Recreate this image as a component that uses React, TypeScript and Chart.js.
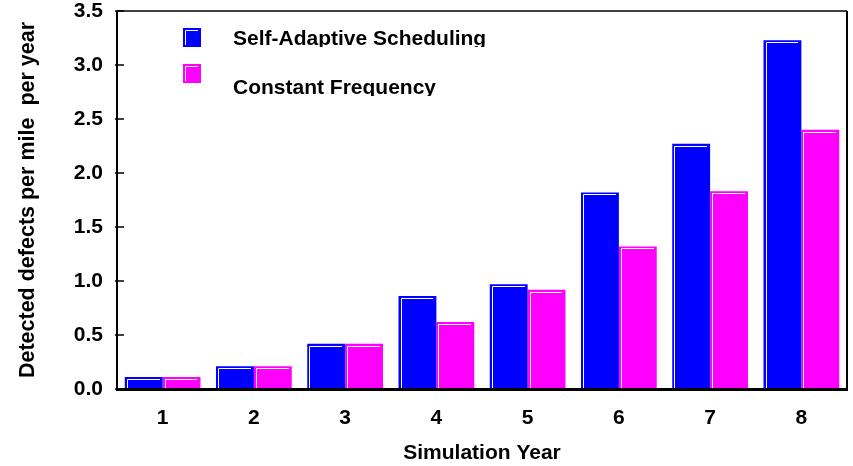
import React, { useEffect, useRef } from "react";
import { Chart, registerables } from "chart.js";

Chart.register(...registerables);

const categories = ["1", "2", "3", "4", "5", "6", "7", "8"];
const selfAdaptive = [0.11, 0.21, 0.42, 0.86, 0.97, 1.82, 2.27, 3.23];
const constantFreq = [0.11, 0.21, 0.42, 0.62, 0.92, 1.32, 1.83, 2.4];
const seriesNames = ["Self-Adaptive Scheduling", "Constant Frequency"];
const seriesColors = ["#0000FF", "#FF00FF"];
const yMin = 0;
const yMax = 3.5;
const yStep = 0.5;
const xTitle = "Simulation Year";
const yTitle = "Detected defects per mile  per year";

const FONT = "'Liberation Sans', Arial, sans-serif";

const highlightPlugin = {
  id: "barHighlight",
  afterDatasetsDraw(chart: any) {
    const ctx = chart.ctx;
    ctx.save();
    ctx.strokeStyle = "#FFFFFF";
    ctx.lineWidth = 1;
    chart.data.datasets.forEach((_: any, i: number) => {
      const meta = chart.getDatasetMeta(i);
      meta.data.forEach((bar: any) => {
        const { x, y, base, width } = bar.getProps(["x", "y", "base", "width"], true);
        const l = Math.round(x - width / 2) + 2.5;
        const r = Math.round(x + width / 2) - 3;
        const t = Math.round(y) + 2.5;
        ctx.beginPath();
        ctx.moveTo(l, base - 1);
        ctx.lineTo(l, t);
        ctx.lineTo(r, t);
        ctx.stroke();
      });
    });
    ctx.restore();
  },
};

const framePlugin = {
  id: "frame",
  afterDraw(chart: any) {
    const ctx = chart.ctx;
    const { left, right, top, bottom } = chart.chartArea;
    const yScale = chart.scales.y;
    ctx.save();
    ctx.strokeStyle = "#000000";
    ctx.lineWidth = 1.5;
    ctx.beginPath();
    ctx.moveTo(left, top);
    ctx.lineTo(right, top);
    ctx.stroke();
    ctx.lineWidth = 2;
    ctx.beginPath();
    ctx.moveTo(right, top);
    ctx.lineTo(right, bottom + 1);
    ctx.stroke();
    ctx.lineWidth = 2;
    ctx.beginPath();
    ctx.moveTo(left, top);
    ctx.lineTo(left, bottom + 1);
    ctx.stroke();
    ctx.lineWidth = 3;
    ctx.beginPath();
    ctx.moveTo(left - 1, bottom + 0.5);
    ctx.lineTo(right + 1, bottom + 0.5);
    ctx.stroke();
    ctx.lineWidth = 1.5;
    yScale.ticks.forEach((t: any) => {
      const py = yScale.getPixelForValue(t.value);
      ctx.beginPath();
      ctx.moveTo(left - 2, py);
      ctx.lineTo(left + 7, py);
      ctx.stroke();
    });
    ctx.restore();
  },
};

const legendPlugin = {
  id: "customLegend",
  afterDraw(chart: any) {
    const ctx = chart.ctx;
    ctx.save();
    const boxX = 183;
    const boxYs = [28, 64];
    const textYs = [45, 94];
    seriesNames.forEach((name, i) => {
      const by = boxYs[i];
      ctx.fillStyle = seriesColors[i];
      ctx.fillRect(boxX, by, 18, 19);
      ctx.strokeStyle = "#FFFFFF";
      ctx.lineWidth = 1;
      ctx.beginPath();
      ctx.moveTo(boxX + 2.5, by + 17);
      ctx.lineTo(boxX + 2.5, by + 2.5);
      ctx.lineTo(boxX + 15, by + 2.5);
      ctx.stroke();
      ctx.save();
      ctx.beginPath();
      ctx.rect(220, textYs[i] - 30, 300, 32);
      ctx.clip();
      ctx.fillStyle = "#000000";
      ctx.font = `bold 21px ${FONT}`;
      ctx.textAlign = "left";
      ctx.textBaseline = "alphabetic";
      ctx.fillText(name, 233, textYs[i]);
      ctx.restore();
    });
    ctx.restore();
  },
};

export default function App() {
  const canvasRef = useRef<HTMLCanvasElement | null>(null);

  useEffect(() => {
    document.body.style.margin = "0";
    const canvas = canvasRef.current;
    if (!canvas) return;
    const chart = new Chart(canvas, {
      type: "bar",
      data: {
        labels: categories,
        datasets: [
          {
            label: seriesNames[0],
            data: selfAdaptive,
            backgroundColor: seriesColors[0],
            borderWidth: 0,
            categoryPercentage: 0.83,
            barPercentage: 1.0,
          },
          {
            label: seriesNames[1],
            data: constantFreq,
            backgroundColor: seriesColors[1],
            borderWidth: 0,
            categoryPercentage: 0.83,
            barPercentage: 1.0,
          },
        ],
      },
      options: {
        responsive: false,
        animation: false,
        devicePixelRatio: 1,
        layout: { padding: { top: 11, right: 6, left: 0, bottom: 0 } },
        plugins: {
          legend: { display: false },
          tooltip: { enabled: false },
        },
        scales: {
          x: {
            grid: { display: false, drawTicks: false },
            border: { display: false },
            ticks: {
              color: "#000000",
              font: { family: FONT, size: 21, weight: "bold" },
              padding: 17,
            },
            title: {
              display: true,
              text: xTitle,
              color: "#000000",
              font: { family: FONT, size: 21, weight: "bold" },
              padding: { top: 0, bottom: 0 },
            },
            afterFit: (s: any) => {
              s.height = 77;
              s.paddingLeft = 0;
              s.paddingRight = 0;
            },
          },
          y: {
            min: yMin,
            max: yMax,
            grid: { display: false, drawTicks: false },
            border: { display: false },
            ticks: {
              stepSize: yStep,
              color: "#000000",
              font: { family: FONT, size: 21, weight: "bold" },
              padding: 14,
              callback: (v: any) => Number(v).toFixed(1),
            },
            title: {
              display: true,
              text: yTitle,
              color: "#000000",
              font: { family: FONT, size: 21.5, weight: "bold" },
              padding: { top: 15, bottom: 0 },
            },
            afterFit: (s: any) => {
              s.width = 117;
              s.paddingTop = 0;
              s.paddingBottom = 0;
            },
          },
        },
      },
      plugins: [highlightPlugin, framePlugin, legendPlugin],
    });
    return () => chart.destroy();
  }, []);

  return (
    <div style={{ width: 853, height: 466 }}>
      <canvas ref={canvasRef} width={853} height={466} style={{ display: "block", width: 853, height: 466 }} />
    </div>
  );
}
